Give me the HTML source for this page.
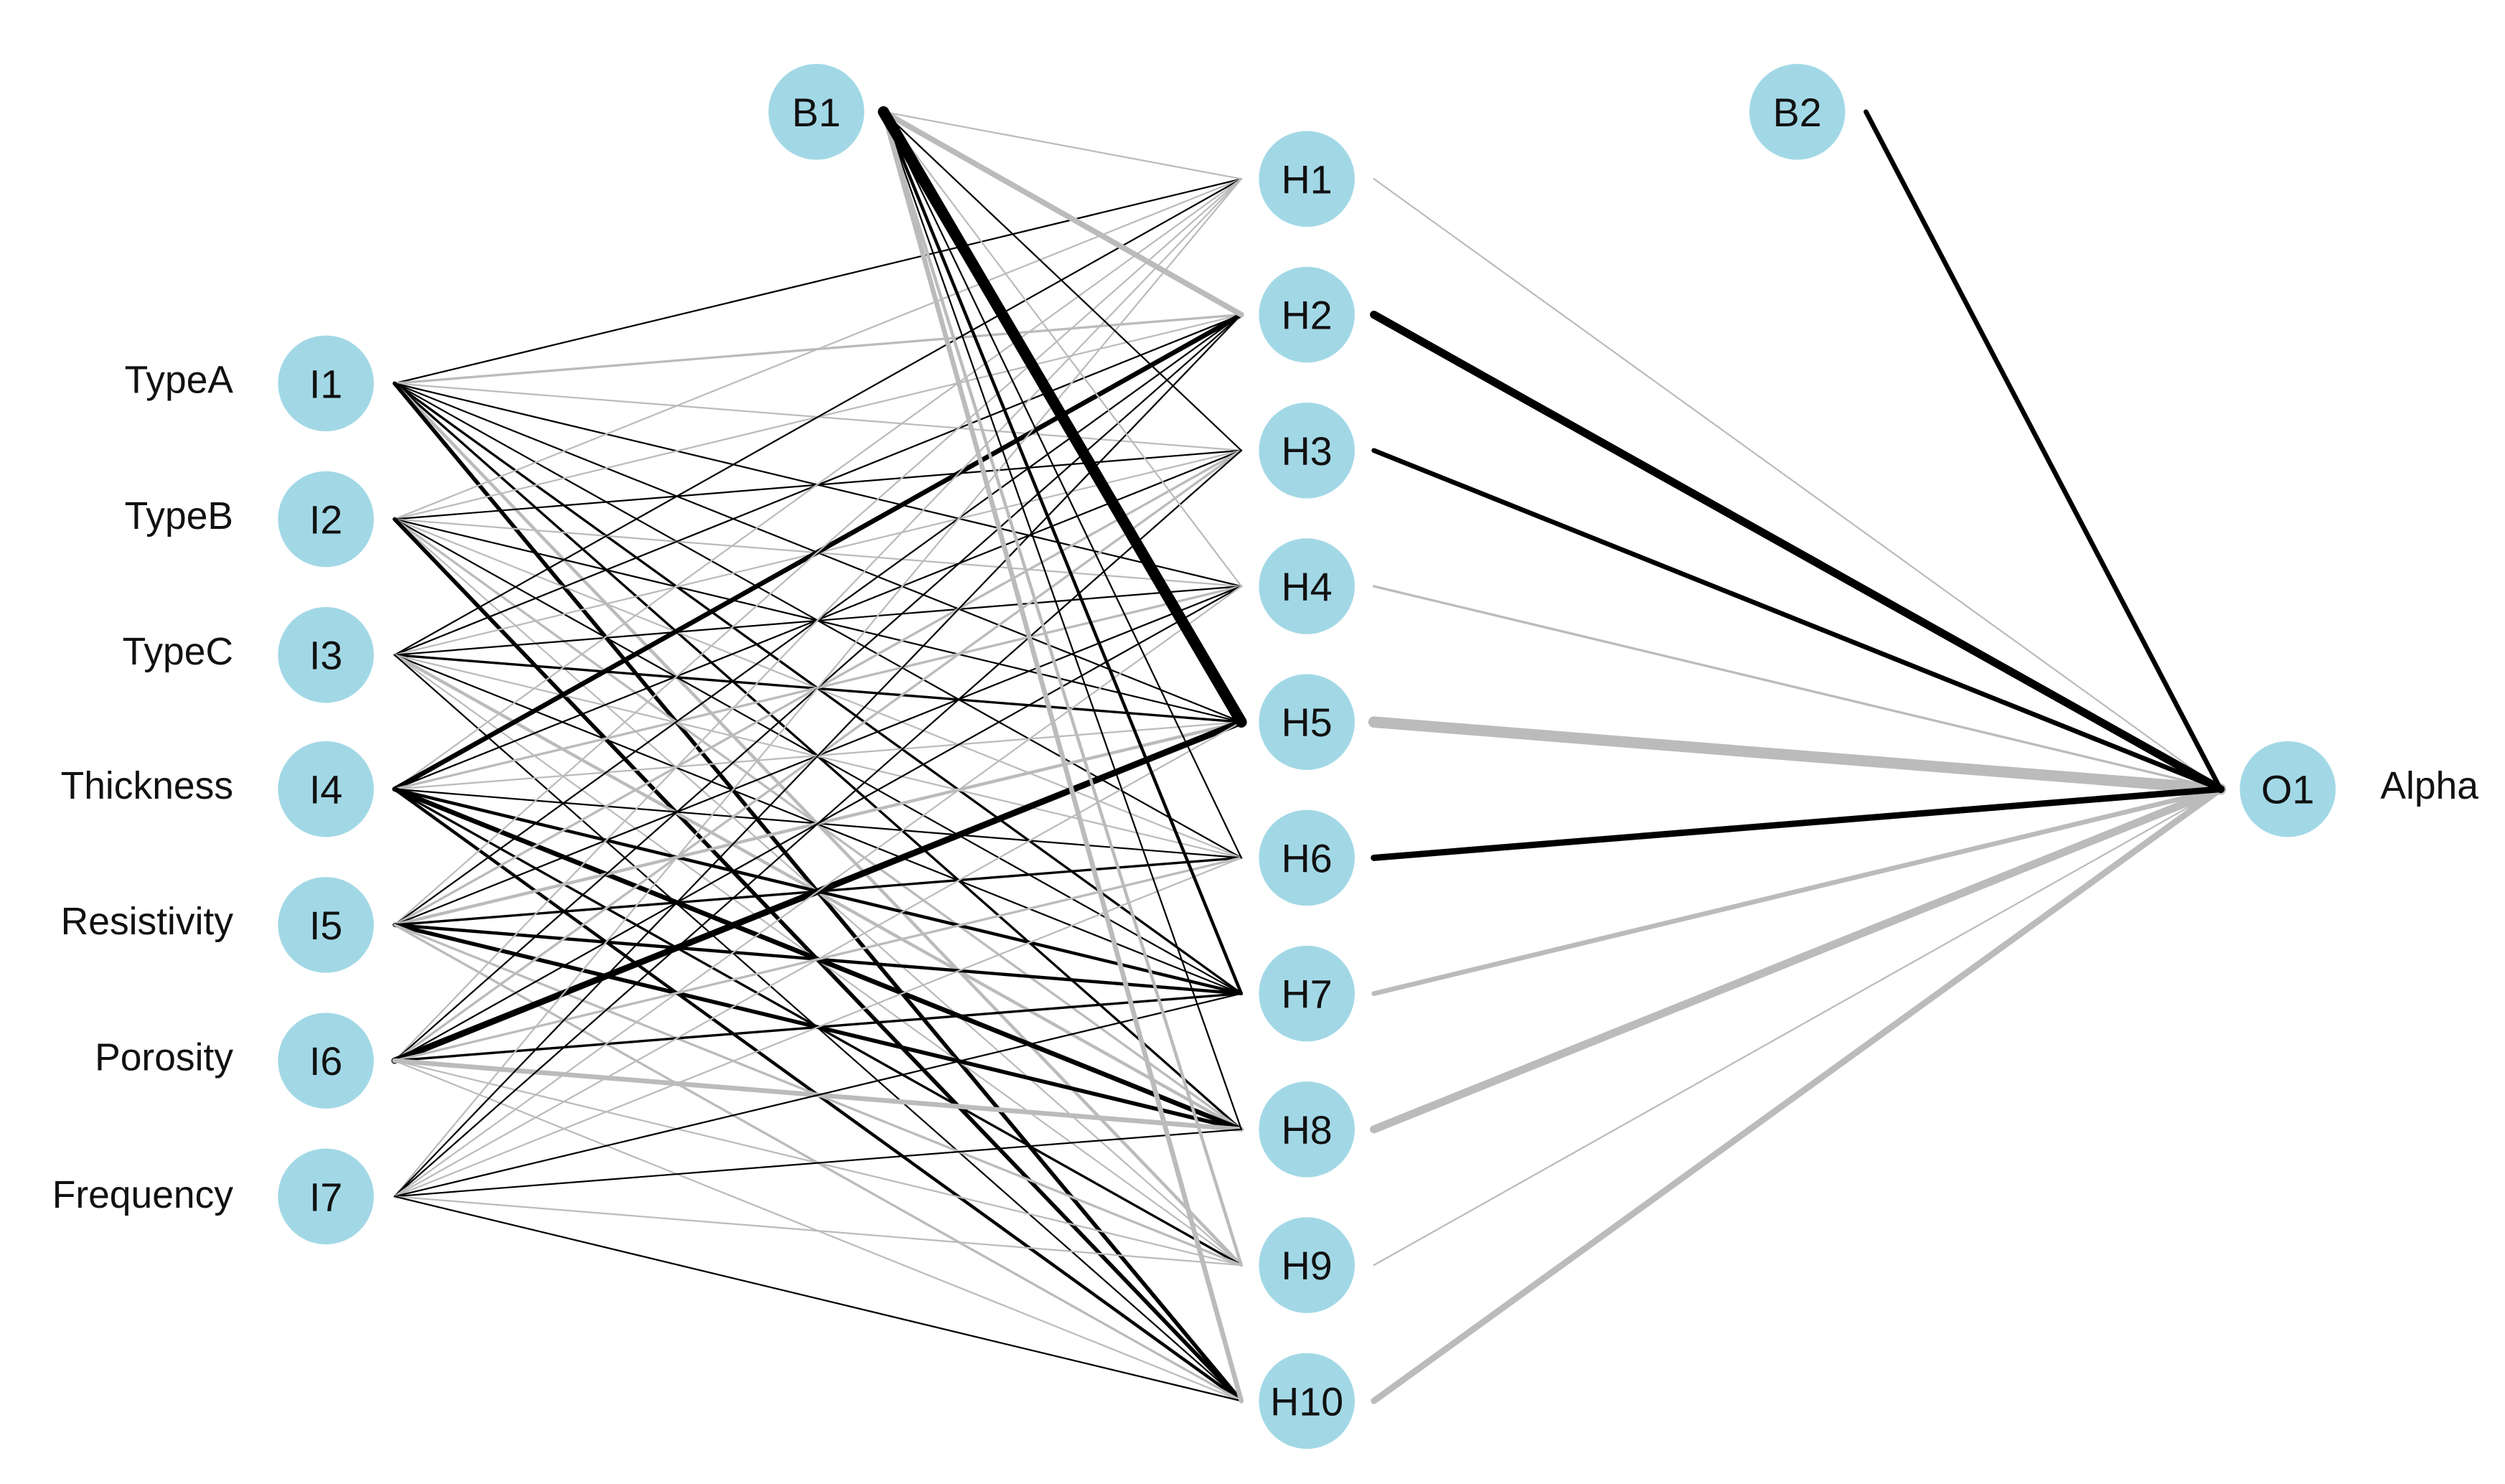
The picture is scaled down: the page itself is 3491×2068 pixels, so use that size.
<!DOCTYPE html>
<html><head><meta charset="utf-8"><style>
html,body{margin:0;padding:0;background:#fff;}
svg{display:block;}
text{font-family:"Liberation Sans",Arial,sans-serif;fill:#111;}
</style></head><body>
<svg width="3491" height="2068" viewBox="0 0 1568 929" preserveAspectRatio="none" xmlns="http://www.w3.org/2000/svg">
<g stroke-linecap="round" fill="none">
<line x1="247" y1="240" x2="777" y2="112" stroke="#000" stroke-width="1"/>
<line x1="247" y1="240" x2="777" y2="197" stroke="#bbb" stroke-width="1.5"/>
<line x1="247" y1="240" x2="777" y2="282" stroke="#bbb" stroke-width="1"/>
<line x1="247" y1="240" x2="777" y2="367" stroke="#000" stroke-width="1"/>
<line x1="247" y1="240" x2="777" y2="452" stroke="#000" stroke-width="1"/>
<line x1="247" y1="240" x2="777" y2="537" stroke="#000" stroke-width="1"/>
<line x1="247" y1="240" x2="777" y2="622" stroke="#000" stroke-width="1.5"/>
<line x1="247" y1="240" x2="777" y2="707" stroke="#000" stroke-width="1.5"/>
<line x1="247" y1="240" x2="777" y2="792" stroke="#bbb" stroke-width="2"/>
<line x1="247" y1="240" x2="777" y2="877" stroke="#000" stroke-width="2.5"/>
<line x1="247" y1="325" x2="777" y2="112" stroke="#bbb" stroke-width="1"/>
<line x1="247" y1="325" x2="777" y2="197" stroke="#bbb" stroke-width="1"/>
<line x1="247" y1="325" x2="777" y2="282" stroke="#000" stroke-width="1"/>
<line x1="247" y1="325" x2="777" y2="367" stroke="#bbb" stroke-width="1"/>
<line x1="247" y1="325" x2="777" y2="452" stroke="#000" stroke-width="1"/>
<line x1="247" y1="325" x2="777" y2="537" stroke="#bbb" stroke-width="1"/>
<line x1="247" y1="325" x2="777" y2="622" stroke="#000" stroke-width="1"/>
<line x1="247" y1="325" x2="777" y2="707" stroke="#bbb" stroke-width="1.5"/>
<line x1="247" y1="325" x2="777" y2="792" stroke="#bbb" stroke-width="1"/>
<line x1="247" y1="325" x2="777" y2="877" stroke="#000" stroke-width="2.5"/>
<line x1="247" y1="410" x2="777" y2="112" stroke="#000" stroke-width="1"/>
<line x1="247" y1="410" x2="777" y2="197" stroke="#000" stroke-width="1"/>
<line x1="247" y1="410" x2="777" y2="282" stroke="#bbb" stroke-width="1"/>
<line x1="247" y1="410" x2="777" y2="367" stroke="#000" stroke-width="1"/>
<line x1="247" y1="410" x2="777" y2="452" stroke="#000" stroke-width="1.5"/>
<line x1="247" y1="410" x2="777" y2="537" stroke="#bbb" stroke-width="1"/>
<line x1="247" y1="410" x2="777" y2="622" stroke="#000" stroke-width="1"/>
<line x1="247" y1="410" x2="777" y2="707" stroke="#bbb" stroke-width="2"/>
<line x1="247" y1="410" x2="777" y2="792" stroke="#bbb" stroke-width="1"/>
<line x1="247" y1="410" x2="777" y2="877" stroke="#000" stroke-width="1"/>
<line x1="247" y1="494" x2="777" y2="112" stroke="#bbb" stroke-width="1"/>
<line x1="247" y1="494" x2="777" y2="197" stroke="#000" stroke-width="3"/>
<line x1="247" y1="494" x2="777" y2="282" stroke="#000" stroke-width="1"/>
<line x1="247" y1="494" x2="777" y2="367" stroke="#bbb" stroke-width="1.5"/>
<line x1="247" y1="494" x2="777" y2="452" stroke="#bbb" stroke-width="1"/>
<line x1="247" y1="494" x2="777" y2="537" stroke="#000" stroke-width="1"/>
<line x1="247" y1="494" x2="777" y2="622" stroke="#000" stroke-width="2"/>
<line x1="247" y1="494" x2="777" y2="707" stroke="#000" stroke-width="3"/>
<line x1="247" y1="494" x2="777" y2="792" stroke="#000" stroke-width="1.5"/>
<line x1="247" y1="494" x2="777" y2="877" stroke="#000" stroke-width="2"/>
<line x1="247" y1="579" x2="777" y2="112" stroke="#bbb" stroke-width="1"/>
<line x1="247" y1="579" x2="777" y2="197" stroke="#000" stroke-width="1"/>
<line x1="247" y1="579" x2="777" y2="282" stroke="#bbb" stroke-width="1.5"/>
<line x1="247" y1="579" x2="777" y2="367" stroke="#000" stroke-width="1"/>
<line x1="247" y1="579" x2="777" y2="452" stroke="#bbb" stroke-width="2"/>
<line x1="247" y1="579" x2="777" y2="537" stroke="#000" stroke-width="1.5"/>
<line x1="247" y1="579" x2="777" y2="622" stroke="#000" stroke-width="2"/>
<line x1="247" y1="579" x2="777" y2="707" stroke="#000" stroke-width="2.5"/>
<line x1="247" y1="579" x2="777" y2="792" stroke="#bbb" stroke-width="1.5"/>
<line x1="247" y1="579" x2="777" y2="877" stroke="#bbb" stroke-width="1.5"/>
<line x1="247" y1="664" x2="777" y2="112" stroke="#bbb" stroke-width="1"/>
<line x1="247" y1="664" x2="777" y2="197" stroke="#000" stroke-width="1"/>
<line x1="247" y1="664" x2="777" y2="282" stroke="#bbb" stroke-width="1.5"/>
<line x1="247" y1="664" x2="777" y2="367" stroke="#000" stroke-width="1"/>
<line x1="247" y1="664" x2="777" y2="452" stroke="#000" stroke-width="4"/>
<line x1="247" y1="664" x2="777" y2="537" stroke="#bbb" stroke-width="1.5"/>
<line x1="247" y1="664" x2="777" y2="622" stroke="#000" stroke-width="1.5"/>
<line x1="247" y1="664" x2="777" y2="707" stroke="#bbb" stroke-width="3"/>
<line x1="247" y1="664" x2="777" y2="792" stroke="#bbb" stroke-width="1"/>
<line x1="247" y1="664" x2="777" y2="877" stroke="#bbb" stroke-width="1"/>
<line x1="247" y1="749" x2="777" y2="112" stroke="#bbb" stroke-width="1"/>
<line x1="247" y1="749" x2="777" y2="197" stroke="#000" stroke-width="1"/>
<line x1="247" y1="749" x2="777" y2="282" stroke="#000" stroke-width="1"/>
<line x1="247" y1="749" x2="777" y2="367" stroke="#bbb" stroke-width="1"/>
<line x1="247" y1="749" x2="777" y2="452" stroke="#bbb" stroke-width="1"/>
<line x1="247" y1="749" x2="777" y2="537" stroke="#bbb" stroke-width="1"/>
<line x1="247" y1="749" x2="777" y2="622" stroke="#000" stroke-width="1"/>
<line x1="247" y1="749" x2="777" y2="707" stroke="#000" stroke-width="1"/>
<line x1="247" y1="749" x2="777" y2="792" stroke="#bbb" stroke-width="1"/>
<line x1="247" y1="749" x2="777" y2="877" stroke="#000" stroke-width="1"/>
<line x1="553" y1="70" x2="777" y2="112" stroke="#bbb" stroke-width="1"/>
<line x1="553" y1="70" x2="777" y2="197" stroke="#bbb" stroke-width="3.5"/>
<line x1="553" y1="70" x2="777" y2="282" stroke="#000" stroke-width="1"/>
<line x1="553" y1="70" x2="777" y2="367" stroke="#bbb" stroke-width="1"/>
<line x1="553" y1="70" x2="777" y2="537" stroke="#000" stroke-width="1"/>
<line x1="553" y1="70" x2="777" y2="622" stroke="#000" stroke-width="2"/>
<line x1="553" y1="70" x2="777" y2="707" stroke="#000" stroke-width="1"/>
<line x1="553" y1="70" x2="777" y2="792" stroke="#bbb" stroke-width="2"/>
<line x1="553" y1="70" x2="777" y2="877" stroke="#bbb" stroke-width="3"/>
<line x1="553" y1="70" x2="777" y2="452" stroke="#000" stroke-width="7"/>
<line x1="860" y1="112" x2="1390" y2="494" stroke="#bbb" stroke-width="1"/>
<line x1="860" y1="367" x2="1390" y2="494" stroke="#bbb" stroke-width="1.5"/>
<line x1="860" y1="792" x2="1390" y2="494" stroke="#bbb" stroke-width="1"/>
<line x1="860" y1="452" x2="1390" y2="494" stroke="#bbb" stroke-width="7"/>
<line x1="860" y1="622" x2="1390" y2="494" stroke="#bbb" stroke-width="3"/>
<line x1="860" y1="707" x2="1390" y2="494" stroke="#bbb" stroke-width="5"/>
<line x1="860" y1="877" x2="1390" y2="494" stroke="#bbb" stroke-width="4"/>
<line x1="860" y1="197" x2="1390" y2="494" stroke="#000" stroke-width="5"/>
<line x1="860" y1="282" x2="1390" y2="494" stroke="#000" stroke-width="3"/>
<line x1="860" y1="537" x2="1390" y2="494" stroke="#000" stroke-width="4"/>
<line x1="1168" y1="70" x2="1390" y2="494" stroke="#000" stroke-width="3"/>
</g>
<g fill="#a2d8e6">
<circle cx="204" cy="240" r="30"/><circle cx="204" cy="325" r="30"/><circle cx="204" cy="410" r="30"/>
<circle cx="204" cy="494" r="30"/><circle cx="204" cy="579" r="30"/><circle cx="204" cy="664" r="30"/>
<circle cx="204" cy="749" r="30"/>
<circle cx="511" cy="70" r="30"/><circle cx="1125" cy="70" r="30"/><circle cx="1432" cy="494" r="30"/>
<circle cx="818" cy="112" r="30"/><circle cx="818" cy="197" r="30"/><circle cx="818" cy="282" r="30"/>
<circle cx="818" cy="367" r="30"/><circle cx="818" cy="452" r="30"/><circle cx="818" cy="537" r="30"/>
<circle cx="818" cy="622" r="30"/><circle cx="818" cy="707" r="30"/><circle cx="818" cy="792" r="30"/>
<circle cx="818" cy="877" r="30"/>
</g>
<g font-size="25" text-anchor="middle">
<text x="204" y="249">I1</text><text x="204" y="334">I2</text><text x="204" y="419">I3</text>
<text x="204" y="503">I4</text><text x="204" y="588">I5</text><text x="204" y="673">I6</text>
<text x="204" y="758">I7</text>
<text x="511" y="79">B1</text><text x="1125" y="79">B2</text><text x="1432" y="503">O1</text>
<text x="818" y="121">H1</text><text x="818" y="206">H2</text><text x="818" y="291">H3</text>
<text x="818" y="376">H4</text><text x="818" y="461">H5</text><text x="818" y="546">H6</text>
<text x="818" y="631">H7</text><text x="818" y="716">H8</text><text x="818" y="801">H9</text>
<text x="818" y="886">H10</text>
</g>
<g font-size="24" text-anchor="end">
<text x="146" y="246">TypeA</text><text x="146" y="331">TypeB</text><text x="146" y="416">TypeC</text>
<text x="146" y="500">Thickness</text><text x="146" y="585">Resistivity</text><text x="146" y="670">Porosity</text>
<text x="146" y="756">Frequency</text>
</g>
<text x="1490" y="500" font-size="24">Alpha</text>
</svg>
</body></html>
